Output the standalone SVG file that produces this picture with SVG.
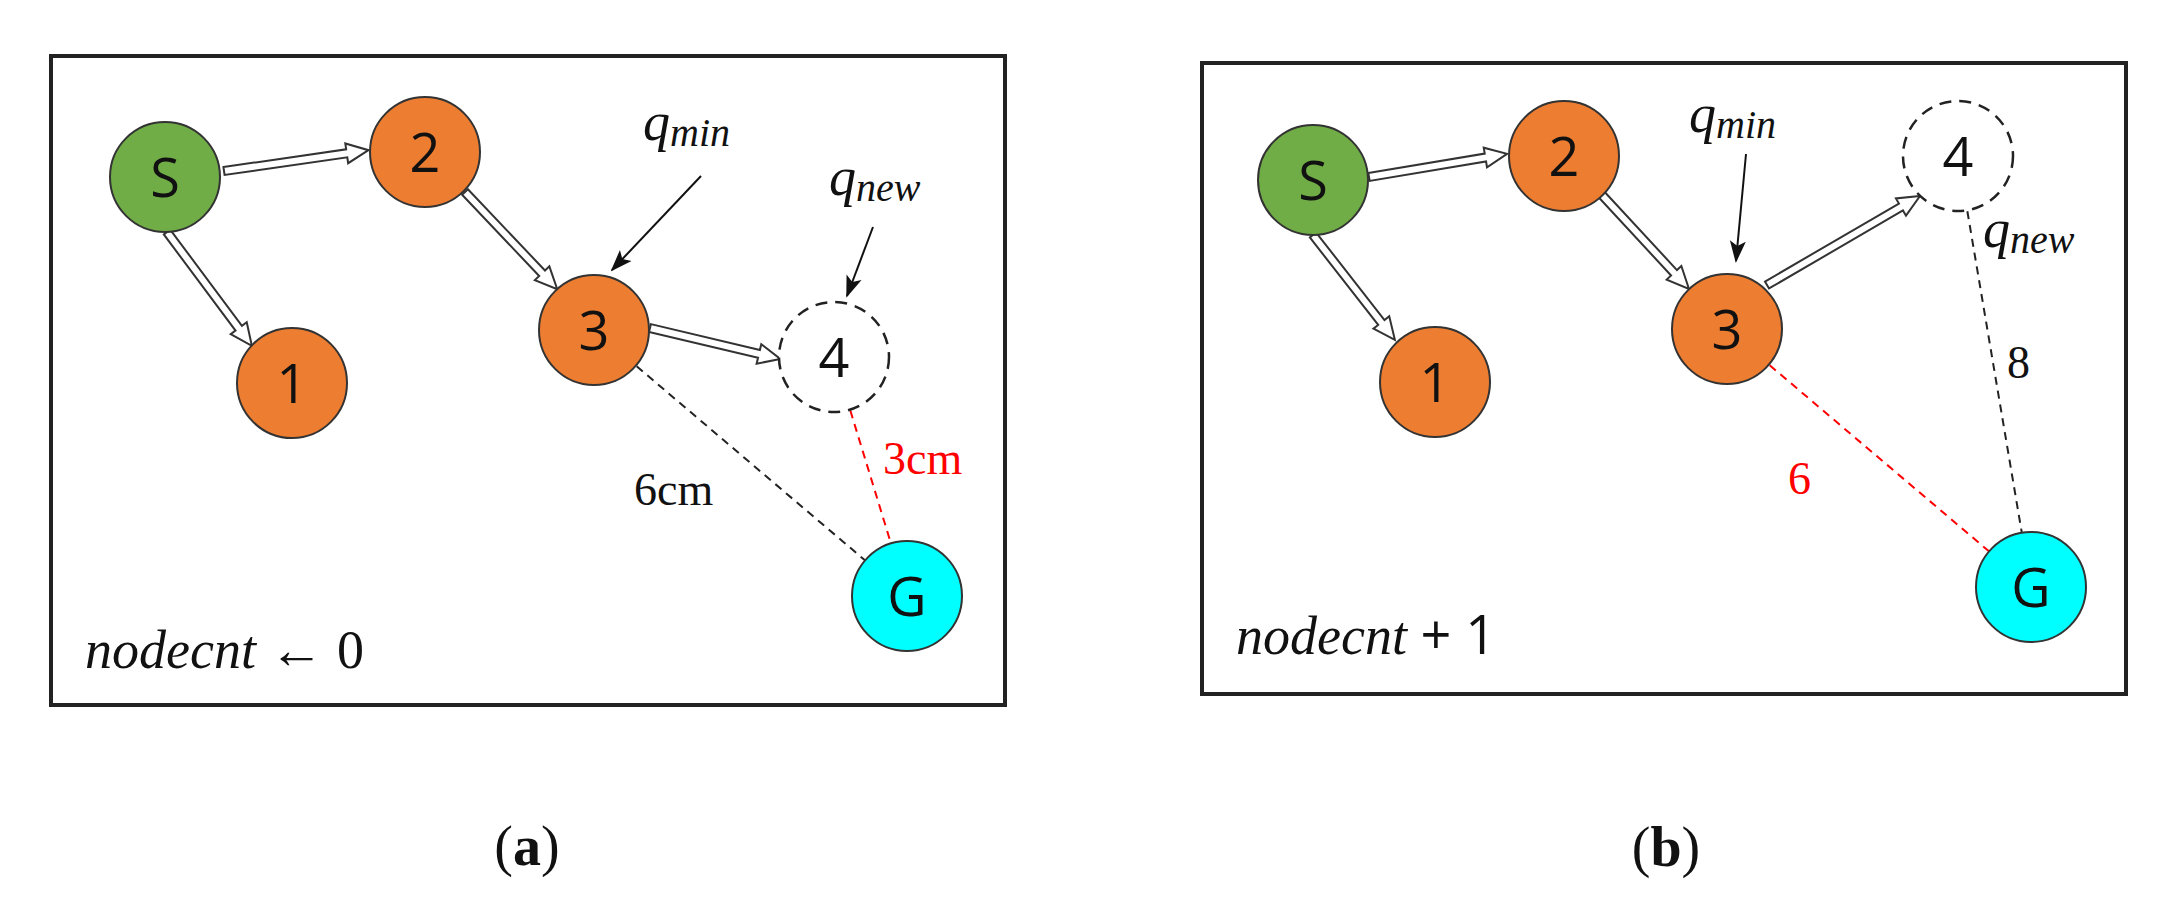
<svg xmlns="http://www.w3.org/2000/svg" width="2177" height="901" viewBox="0 0 2177 901">
<style>
.box{fill:#fff;stroke:#222;stroke-width:4}
.nd{stroke:#333;stroke-width:2}
.or{fill:#ED7D31}.gr{fill:#70AD47}.cy{fill:#00FFFF}
.dn{fill:#fff;stroke:#222;stroke-width:2.5;stroke-dasharray:12 8}
.lb{font-family:"Open Sans","Liberation Sans",sans-serif;font-size:54px;fill:#111;text-anchor:middle}
.m{font-family:"Liberation Serif",serif;font-style:italic;fill:#111}
.ha{fill:#fff;stroke:#333;stroke-width:2}
.dk{stroke:#222;stroke-width:2;stroke-dasharray:8 6;fill:none}
.dr{stroke:#f00;stroke-width:2;stroke-dasharray:8 6;fill:none}
.pa{stroke:#111;stroke-width:2;fill:none}
.t{font-family:"Liberation Serif",serif;font-size:46px}
</style>
<defs>
<marker id="ah" markerWidth="10" markerHeight="10" refX="9" refY="5" orient="auto" markerUnits="userSpaceOnUse" viewBox="0 0 10 10"><path d="M0,0 L10,5 L0,10 Z" fill="#111" transform="scale(1)"/></marker>
<marker id="ahb" markerWidth="22" markerHeight="22" refX="20" refY="11" orient="auto" markerUnits="userSpaceOnUse"><path d="M0,3 L22,11 L0,19 L5,11 Z" fill="#111"/></marker>
</defs>
<rect class="box" x="51" y="56" width="954" height="649"/>
<rect class="box" x="1202" y="63" width="924" height="631"/>
<g id="connectors">
<line class="dk" x1="594" y1="330" x2="907" y2="596"/>
<line class="dr" x1="834" y1="357" x2="907" y2="596"/>
<line class="dr" x1="1727" y1="329" x2="2031" y2="587"/>
<line class="dk" x1="1958" y1="156" x2="2031" y2="587"/>
<g transform="translate(224,171) rotate(-8.2)"><path class="ha" d="M0,-4 L124,-4 L124,-10 L146,0 L124,10 L124,4 L0,4 Z"/></g>
<g transform="translate(167,232) rotate(53.3)"><path class="ha" d="M0,-4 L120,-4 L120,-10 L142,0 L120,10 L120,4 L0,4 Z"/></g>
<g transform="translate(465,192) rotate(46.5)"><path class="ha" d="M0,-4 L112,-4 L112,-10 L134,0 L112,10 L112,4 L0,4 Z"/></g>
<g transform="translate(650,328) rotate(13.4)"><path class="ha" d="M0,-4 L112,-4 L112,-10 L134,0 L112,10 L112,4 L0,4 Z"/></g>
<g transform="translate(1369,177) rotate(-9.5)"><path class="ha" d="M0,-4 L118,-4 L118,-10 L140,0 L118,10 L118,4 L0,4 Z"/></g>
<g transform="translate(1313,235) rotate(52)"><path class="ha" d="M0,-4 L111,-4 L111,-10 L133,0 L111,10 L111,4 L0,4 Z"/></g>
<g transform="translate(1602,195) rotate(47.2)"><path class="ha" d="M0,-4 L106,-4 L106,-10 L128,0 L106,10 L106,4 L0,4 Z"/></g>
<g transform="translate(1767,285) rotate(-30.2)"><path class="ha" d="M0,-4 L155,-4 L155,-10 L177,0 L155,10 L155,4 L0,4 Z"/></g>
<line class="pa" x1="701" y1="176" x2="612" y2="270" marker-end="url(#ahb)"/>
<line class="pa" x1="873" y1="227" x2="847" y2="296" marker-end="url(#ahb)"/>
<line class="pa" x1="1746" y1="154" x2="1736" y2="261" marker-end="url(#ahb)"/>
</g>
<g id="a-S"><circle class="nd gr" cx="165" cy="177" r="55"/><text class="lb" x="165" y="197">S</text></g>
<g id="a-2"><circle class="nd or" cx="425" cy="152" r="55"/><text class="lb" x="425" y="172">2</text></g>
<g id="a-1"><circle class="nd or" cx="292" cy="383" r="55"/><text class="lb" x="292" y="403">1</text></g>
<g id="a-3"><circle class="nd or" cx="594" cy="330" r="55"/><text class="lb" x="594" y="350">3</text></g>
<g id="a-4"><circle class="dn" cx="834" cy="357" r="55"/><text class="lb" x="834" y="377">4</text></g>
<g id="a-G"><circle class="nd cy" cx="907" cy="596" r="55"/><text class="lb" x="907" y="616">G</text></g>
<g id="b-S"><circle class="nd gr" cx="1313" cy="180" r="55"/><text class="lb" x="1313" y="200">S</text></g>
<g id="b-2"><circle class="nd or" cx="1564" cy="156" r="55"/><text class="lb" x="1564" y="176">2</text></g>
<g id="b-1"><circle class="nd or" cx="1435" cy="382" r="55"/><text class="lb" x="1435" y="402">1</text></g>
<g id="b-3"><circle class="nd or" cx="1727" cy="329" r="55"/><text class="lb" x="1727" y="349">3</text></g>
<g id="b-4"><circle class="dn" cx="1958" cy="156" r="55"/><text class="lb" x="1958" y="176">4</text></g>
<g id="b-G"><circle class="nd cy" cx="2031" cy="587" r="55"/><text class="lb" x="2031" y="607">G</text></g>
<g id="labels">
<text class="m" x="643" y="140" font-size="54">q<tspan font-size="40" dy="6">min</tspan></text>
<text class="m" x="829" y="195" font-size="54">q<tspan font-size="40" dy="6">new</tspan></text>
<text class="t" x="634" y="505" fill="#111">6cm</text>
<text class="t" x="883" y="474" fill="#f00">3cm</text>
<text class="m" x="85" y="668" font-size="54">nodecnt <tspan font-style="normal">← 0</tspan></text>
<text x="527" y="865" font-family="Liberation Serif,serif" font-size="56" text-anchor="middle" fill="#111">(<tspan font-weight="bold">a</tspan>)</text>
<text class="m" x="1689" y="132" font-size="54">q<tspan font-size="40" dy="6">min</tspan></text>
<text class="m" x="1983" y="247" font-size="54">q<tspan font-size="40" dy="6">new</tspan></text>
<text class="t" x="2007" y="378" fill="#111">8</text>
<text class="t" x="1788" y="494" fill="#f00">6</text>
<text class="m" x="1236" y="654" font-size="54">nodecnt <tspan font-family="Open Sans,Liberation Sans,sans-serif" font-style="normal">+ 1</tspan></text>
<text x="1666" y="866" font-family="Liberation Serif,serif" font-size="56" text-anchor="middle" fill="#111">(<tspan font-weight="bold">b</tspan>)</text>
</g>
</svg>
